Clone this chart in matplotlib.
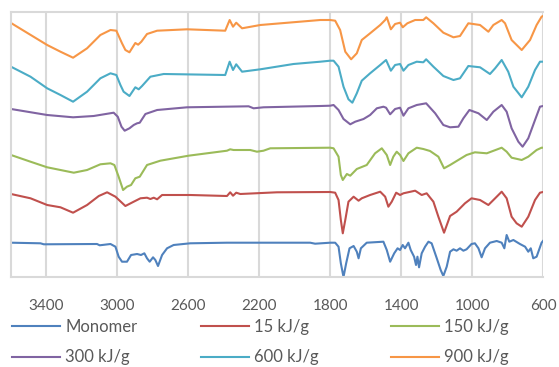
import numpy as np
import matplotlib
matplotlib.use('Agg')
import matplotlib.pyplot as plt

plt.rcParams['font.family'] = ['Lato', 'DejaVu Sans']

# Spektrum (bilangan gelombang, intensitas relatif)
wn_monomer = [3600, 3434, 3415, 3115, 3100, 3039, 3011, 2993, 2974, 2946, 2923, 2889, 2867,
              2848, 2833, 2818, 2799, 2786, 2771, 2748, 2720, 2683, 2589, 2382, 1913, 1885,
              1800, 1772, 1753, 1740, 1725, 1710, 1691, 1668, 1650, 1640, 1627, 1594, 1500,
              1481, 1462, 1439, 1420, 1406, 1391, 1378, 1359, 1346, 1327, 1316, 1308, 1299,
              1284, 1265, 1246, 1228, 1199, 1177, 1162, 1143, 1124, 1105, 1087, 1068, 1049,
              1031, 1003, 984, 964, 946, 927, 899, 861, 833, 818, 805, 790, 767, 730, 701,
              683, 669, 655, 636, 608, 600]
y_monomer = [34.3, 33.7, 32.7, 33, 31.7, 33, 30.3, 20.3, 15.3, 15.3, 22, 23, 22,
             23.7, 18.7, 15.3, 19.7, 17, 11, 22, 28.7, 32, 33.7, 34.3, 34.3, 33.3,
             34.3, 34.3, 30.3, 13.7, 0, 13.7, 28.7, 31, 25.3, 18.7, 28.7, 34.3, 35.3,
             27, 15.3, 23.7, 28.7, 27, 32, 28.7, 34.3, 27, 20.3, 12, 20.3, 9.7,
             23.7, 30.3, 35.3, 33.7, 18.7, 7, 1, 10.3, 25.3, 27.7, 26.3, 28.7, 26.3,
             27.7, 33, 33.7, 28.7, 19.7, 28.7, 34.3, 36, 34.3, 28.7, 42, 35.3, 37, 33, 30.3,
             25.3, 28.7, 18.7, 20.3, 34.3, 36]

wn_15 = [3600, 3490, 3396, 3321, 3250, 3171, 3105, 3058, 3011, 2955, 2908, 2870, 2833,
         2814, 2795, 2776, 2748, 2589, 2382, 2364, 2348, 2330, 2307, 2101, 1800, 1772,
         1753, 1740, 1729, 1715, 1697, 1668, 1640, 1622, 1575, 1518, 1490, 1472, 1453,
         1428, 1406, 1387, 1321, 1284, 1256, 1218, 1190, 1158, 1124, 1087, 1040, 1003,
         955, 908, 870, 833, 805, 777, 749, 720, 683, 645, 617, 600]
y_15 = [83, 78.7, 72, 69.7, 64.3, 72, 81, 84.7, 80.3, 71, 75.3, 78.7, 79.3,
        78, 79.3, 77.7, 82, 82, 81, 84.7, 81.3, 84.3, 83, 84.7, 85, 84.3,
        77, 57, 43.7, 57, 75.3, 80.3, 76.3, 78.7, 82, 85.3, 80.3, 70.3, 75.3,
        84.3, 82, 83.7, 86.3, 82, 83.7, 75.3, 60.3, 44.3, 61, 65.3, 73.7, 78.7,
        77, 72, 78.7, 85.3, 78.7, 60.3, 53.7, 50.3, 60.3, 77, 84.3, 85]

wn_150 = [3600, 3490, 3396, 3321, 3246, 3171, 3096, 3039, 3017, 2993, 2968, 2946, 2923,
          2899, 2874, 2833, 2758, 2599, 2382, 2364, 2345, 2251, 2213, 2176, 2138, 1800,
          1781, 1753, 1740, 1729, 1706, 1687, 1650, 1594, 1547, 1509, 1481, 1462, 1444,
          1425, 1406, 1387, 1359, 1312, 1275, 1237, 1190, 1158, 1124, 1087, 1031, 984,
          917, 833, 805, 777, 720, 683, 636, 608, 600]
y_150 = [122, 115.3, 109.7, 107, 104.3, 107, 112.7, 113.7, 112, 100.3, 87, 90.3, 92,
         98.7, 100.3, 112, 116.3, 121.3, 126.3, 127.7, 127, 127, 125.3, 126.3, 128.7, 129.3,
         128.7, 120.3, 102, 97, 103, 101.3, 108, 112, 123.7, 128.7, 122, 112, 120.3,
         125.3, 122, 116, 123.7, 129.3, 128, 126, 120.3, 108.7, 112, 116, 122, 124.7,
         123.7, 129.3, 125.3, 119.3, 117, 120.3, 127, 129.3, 129.3]

wn_300 = [3600, 3396, 3250, 3134, 3021, 2998, 2977, 2959, 2932, 2908, 2889, 2874, 2842,
          2776, 2607, 2260, 2232, 2176, 1856, 1800, 1781, 1753, 1725, 1687, 1659, 1612,
          1575, 1537, 1500, 1485, 1462, 1434, 1406, 1387, 1359, 1312, 1259, 1208, 1162,
          1124, 1077, 1049, 1015, 964, 917, 880, 833, 805, 777, 739, 715, 683, 645, 617, 600]
y_300 = [168, 162, 159.7, 161, 164.3, 160.3, 150.3, 146.3, 148.7, 152, 153.7, 154.3, 163,
         167, 169.7, 170.7, 168.7, 169.7, 171, 171.3, 172, 167, 158, 152.7, 155.3, 158,
         162, 168.7, 170.3, 169.3, 162.7, 168, 169.3, 161.3, 168.7, 172, 173.7, 163.7, 152,
         149.7, 150.3, 158.7, 167, 163.7, 157, 165.3, 172, 165.3, 148.7, 135.3, 130.3, 138.7,
         157, 170.3, 171]

wn_600 = [3600, 3490, 3396, 3321, 3250, 3171, 3096, 3039, 3006, 2983, 2965, 2932, 2899,
          2880, 2861, 2814, 2739, 2392, 2367, 2348, 2330, 2297, 2194, 2007, 1856, 1800,
          1781, 1753, 1725, 1697, 1675, 1650, 1622, 1575, 1518, 1485, 1458, 1434, 1406,
          1387, 1359, 1312, 1275, 1259, 1218, 1162, 1105, 1068, 1021, 955, 899, 870, 833,
          796, 767, 720, 683, 645, 617, 600]
y_600 = [210.3, 200.3, 188.7, 182, 175.3, 185.3, 198.7, 203.7, 202, 192, 185.3, 181, 189.7,
         187.7, 191, 200.3, 203, 202, 215.3, 207, 212.7, 205.3, 207.7, 213, 215.3, 216.3,
         216.3, 210.3, 190.3, 177.7, 174.3, 183.7, 196.3, 203.7, 212, 217, 206.3, 212, 213,
         206.3, 212, 215.3, 214.7, 217.7, 210.3, 201, 197, 198.7, 211, 209.7, 203, 208.7, 217,
         205.3, 190.3, 179.7, 190.3, 207, 215.3, 215.3]

wn_900 = [3600, 3396, 3321, 3250, 3171, 3096, 3039, 3006, 2974, 2955, 2932, 2899, 2883,
          2865, 2833, 2776, 2607, 2392, 2367, 2348, 2330, 2297, 2194, 1856, 1800, 1772,
          1744, 1715, 1682, 1650, 1622, 1575, 1518, 1490, 1481, 1458, 1434, 1406, 1391,
          1365, 1321, 1275, 1259, 1218, 1162, 1105, 1068, 1021, 955, 908, 880, 833, 814,
          777, 720, 673, 636, 608, 600]
y_900 = [254, 232, 225.3, 219.3, 228.7, 242, 247, 246.3, 233.7, 227, 224.7, 234, 232.3,
         235.3, 243, 246.3, 247.7, 246.3, 257, 250.3, 254.3, 248.7, 252, 257, 257, 256.3,
         247, 225.3, 217.7, 223.7, 237, 243.7, 252, 257, 259.7, 247.7, 253, 254.3, 249.7,
         253.7, 257, 257, 259.7, 253.7, 244.3, 239.7, 241, 253.7, 252, 245.3, 252, 257, 253.7,
         237, 227, 237, 252, 260.3, 261]

labels = ['Monomer', '15 kJ/g', '150 kJ/g', '300 kJ/g', '600 kJ/g', '900 kJ/g']
colors = ['#4F81BD', '#C0504D', '#9BBB59', '#8064A2', '#4BACC6', '#F79646']
xticks = [3400, 3000, 2600, 2200, 1800, 1400, 1000, 600]

series = [(wn_monomer, y_monomer), (wn_15, y_15), (wn_150, y_150),
          (wn_300, y_300), (wn_600, y_600), (wn_900, y_900)]

fig = plt.figure(figsize=(5.59, 3.67), dpi=100)
ax = fig.add_axes([11 / 559, 90 / 367, 532 / 559, 265 / 367])

lines = []
for (wn, y), lab, c in zip(series, labels, colors):
    l, = ax.plot(wn, y, color=c, lw=1.5, label=lab)
    lines.append(l)

ax.set_xlim(3600, 600)
ax.set_ylim(0, 265)
ax.set_xticks(xticks)
ax.set_xticklabels([str(t) for t in xticks])
ax.set_yticks([])
ax.tick_params(axis='x', length=0, pad=16, labelsize=11, labelcolor='#595959')
ax.grid(axis='x', color='#D9D9D9', lw=1.5)
ax.set_axisbelow(True)
for s in ax.spines.values():
    s.set_color('#D9D9D9')
    s.set_linewidth(1.5)
ax.spines['right'].set_visible(False)

# legenda: tiga kolom dengan jarak tetap, diisi baris demi baris
kolom_x = [12 / 559, 201 / 559, 391 / 559]
for j, x0 in enumerate(kolom_x):
    leg = fig.legend([lines[j], lines[j + 3]], [labels[j], labels[j + 3]],
                     loc='upper left', bbox_to_anchor=(x0, 0.130),
                     frameon=False, fontsize=12, handlelength=2.9, handletextpad=0.3,
                     labelspacing=0.85, borderpad=0.0, borderaxespad=0.0)
    for t in leg.get_texts():
        t.set_color('#595959')

plt.savefig('out.png', dpi=100)
